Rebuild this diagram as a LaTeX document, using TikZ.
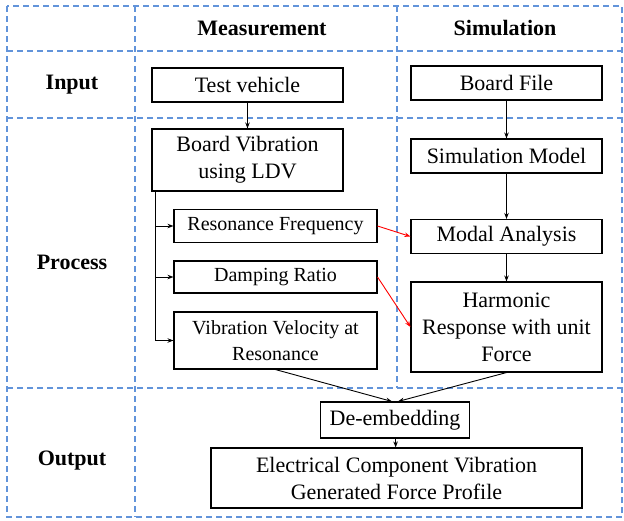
\documentclass[tikz,border=0pt]{standalone}
\usepackage{fontspec}
\setmainfont{Liberation Serif}
\usetikzlibrary{arrows.meta}
\definecolor{gridblue}{RGB}{98,148,218}

\begin{document}
\begin{tikzpicture}[x=1pt, y=-1pt, >={Stealth[length=6pt,width=4.5pt]},
    grid line/.style={gridblue, line width=1.2pt, dash pattern=on 6pt off 4pt},
    big box/.style={draw, fill=white, line width=1.1pt, align=center, inner sep=2pt,
                    font=\fontsize{22}{27}\selectfont},
    small box/.style={draw, fill=white, line width=1.1pt, align=center, inner sep=2pt,
                    font=\fontsize{20}{26}\selectfont},
    head/.style={font=\fontsize{22}{27}\selectfont\bfseries},
    link/.style={->, line width=0.9pt},
    red link/.style={->, line width=0.9pt, red}]
\useasboundingbox (0,0) rectangle (624,520);
% table frame
\draw[grid line] (7,6) rectangle (622,517);
\draw[grid line] (135,6) -- (135,517);
\draw[grid line] (397,6) -- (397,388);
\draw[grid line] (7,51) -- (622,51);
\draw[grid line] (7,118) -- (622,118);
\draw[grid line] (7,388) -- (622,388);
% headings
\node[head](meas) at (262,28) {Measurement};
\node[head](sim) at (505,28) {Simulation};
\node[head](in) at (72,85) {Input};
\node[head](proc) at (72,262) {Process};
\node[head](out) at (72,461) {Output};
% measurement column
\node[big box, minimum width=191, minimum height=34](test) at (247.5,85) {Test vehicle};
\node[big box, minimum width=191, minimum height=62](bvib) at (247.5,160) {Board Vibration\\using LDV};
\node[small box, minimum width=203, minimum height=33](res) at (275.5,226) {Resonance Frequency};
\node[small box, minimum width=203, minimum height=32](damp) at (275.5,277) {Damping Ratio};
\node[small box, minimum width=203, minimum height=57](vvel) at (275.5,340.5) {Vibration Velocity at\\Resonance};
% simulation column
\node[big box, minimum width=191, minimum height=34](board) at (506.5,83) {Board File};
\node[big box, minimum width=191, minimum height=34](model) at (506.5,156) {Simulation Model};
\node[big box, minimum width=191, minimum height=34](modal) at (506.5,236.5) {Modal Analysis};
\node[big box, minimum width=191, minimum height=90](harm) at (506.5,327) {Harmonic\\Response with unit\\Force};
% output
\node[big box, minimum width=149, minimum height=36](deemb) at (395,420) {De-embedding};
\node[big box, minimum width=371, minimum height=60](force) at (396.5,478) {Electrical Component Vibration\\Generated Force Profile};

\draw[link] (test) -- (bvib);
\draw[link] (board) -- (model);
\draw[link] (model) -- (modal);
\draw[link] (modal) -- (harm);
\draw[link] ([xshift=4pt]bvib.south west) |- (res.west);
\draw[link] ([xshift=4pt]bvib.south west) |- (damp.west);
\draw[link] ([xshift=4pt]bvib.south west) |- (vvel.west);
\draw[red link] (res.east) -- (modal.west);
\draw[red link] (damp.east) -- (harm.west);
\draw[link] (vvel.south) -- ([xshift=-3pt]deemb.north);
\draw[link] (harm.south) -- ([xshift=3pt]deemb.north);
\draw[link] (deemb) -- (force);
\end{tikzpicture}
\end{document}
